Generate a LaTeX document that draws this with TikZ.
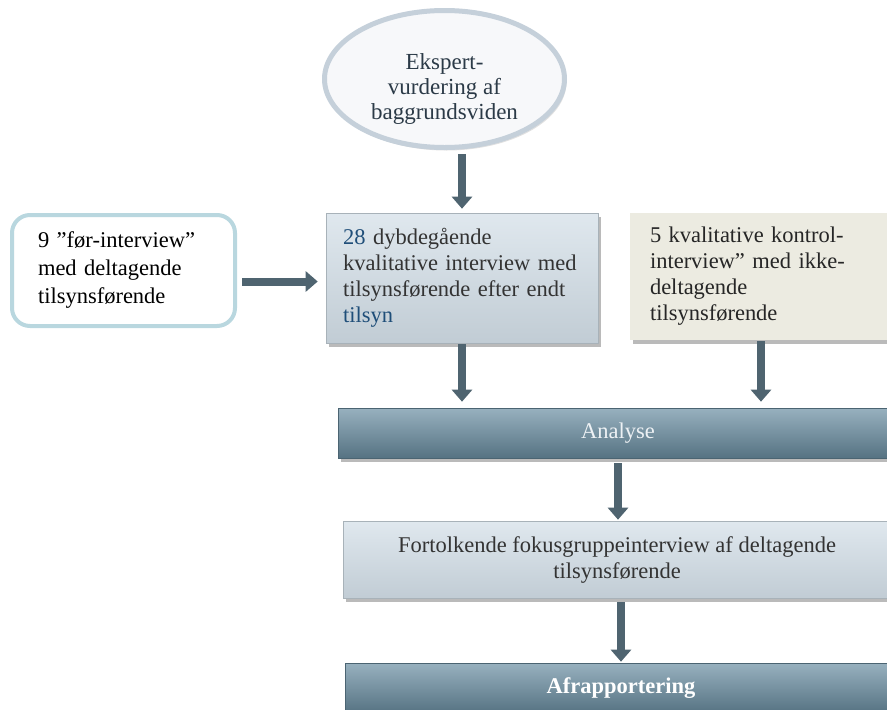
\documentclass[tikz,border=0pt]{standalone}
\usepackage{fontspec}
\setmainfont{Liberation Serif}
\usetikzlibrary{shapes.geometric,arrows.meta,shadows}

\definecolor{pilgraa}{HTML}{4F6470}
\definecolor{ellipserand}{HTML}{C5D0DA}
\definecolor{ellipsefyld}{HTML}{F7F8FA}
\definecolor{boksrand}{HTML}{B9D7DF}
\definecolor{lysblaa}{HTML}{D2DEE7}
\definecolor{beigefyld}{HTML}{ECEBE1}
\definecolor{staalblaa}{HTML}{6B8FA3}
\definecolor{moerktekst}{HTML}{2B3A47}
\definecolor{graatekst}{HTML}{333333}
\definecolor{tekstblaa}{HTML}{1F4E79}

\tikzset{
  flowtekst/.style={font=\fontsize{22.5}{26}\selectfont},
  flowarrow/.style={draw=pilgraa, line width=8pt,
    -{Triangle[width=20pt,length=12pt]}, shorten <=4pt, shorten >=4pt},
  skygge/.style={drop shadow={shadow xshift=3pt, shadow yshift=-4pt, opacity=.45, fill=black!60}},
  lysboks/.style={rectangle, inner sep=0pt, top color=lysblaa!70!white,
    bottom color=lysblaa!92!black, draw=lysblaa!80!black, line width=0.6pt, skygge, flowtekst},
  bjaelke/.style={rectangle, inner sep=0pt, top color=staalblaa!70!white,
    middle color=staalblaa, bottom color=staalblaa!80!black,
    draw=staalblaa!70!black, line width=0.6pt, minimum height=50pt, skygge, flowtekst},
}

\begin{document}
\begin{tikzpicture}[x=1pt,y=-1pt]
    \useasboundingbox (0,0) rectangle (887,710);
    \clip (0,0) rectangle (887,710);
    %
    \node[ellipse, draw=ellipserand, fill=ellipsefyld, line width=5pt,
      minimum width=240pt, minimum height=137pt, align=center, inner sep=0pt,
      text=moerktekst, font=\fontsize{23}{25}\selectfont,
      drop shadow={shadow xshift=2pt, shadow yshift=-3pt, opacity=.2, fill=black!60}]
      (ekspert) at (444.5,79) {\rule{0pt}{36pt}Ekspert-\\vurdering af\\baggrundsviden};
    \node[rectangle, rounded corners=18pt, draw=boksrand, fill=white, line width=4pt,
      minimum width=223pt, minimum height=111pt, inner xsep=26pt,
      text width=171pt, align=left, font=\fontsize{22.5}{28}\selectfont]
      (foer) at (123.5,270.5) {9 ”før-interview”\\med deltagende\\tilsynsførende};
    \node[lysboks, minimum width=272pt, minimum height=130pt, inner xsep=17pt,
      text width=238pt, align=left, text=graatekst]
      (dybde) at (462,278) {\textcolor{tekstblaa}{28} dybdegående\\kvalitative interview med\\tilsynsførende efter endt\\\textcolor{tekstblaa}{tilsyn}};
    \node[rectangle, fill=beigefyld, minimum width=262pt, minimum height=127pt,
      inner xsep=20pt, text width=222pt, align=left, text=black!85, skygge, flowtekst]
      (kontrol) at (761,276.5) {5 kvalitative kontrol-\\interview” med ikke-\\deltagende\\tilsynsførende};
    %
    \node[bjaelke, minimum width=560pt, text=white!88!staalblaa]
      (analyse) at (618,433) {Analyse};
    \node[lysboks, minimum width=548pt, minimum height=77pt, align=center, text=graatekst]
      (fortolk) at (617,559.5) {Fortolkende fokusgruppeinterview af deltagende\\tilsynsførende};
    \node[bjaelke, minimum width=552pt, text=white, font=\fontsize{22.5}{26}\selectfont\bfseries]
      (afrap) at (621,688) {Afrapportering};
    %
    \draw[flowarrow] (ekspert.south -| dybde.north) -- (dybde.north);
    \draw[flowarrow, shorten <=5pt, shorten >=8pt] ([yshift=-11pt]foer.east) -- ([yshift=-11pt]foer.east -| dybde.west);
    \draw[flowarrow, shorten <=1pt, shorten >=6pt] (dybde.south) -- (dybde.south |- analyse.north);
    \draw[flowarrow, shorten <=1pt, shorten >=6pt] (kontrol.south) -- (kontrol.south |- analyse.north);
    \draw[flowarrow, shorten <=5pt, shorten >=1pt] (analyse.south) -- (analyse.south |- fortolk.north);
    \draw[flowarrow, shorten <=4pt, shorten >=1pt] (fortolk.south -| afrap.north) -- (afrap.north);
\end{tikzpicture}
\end{document}
